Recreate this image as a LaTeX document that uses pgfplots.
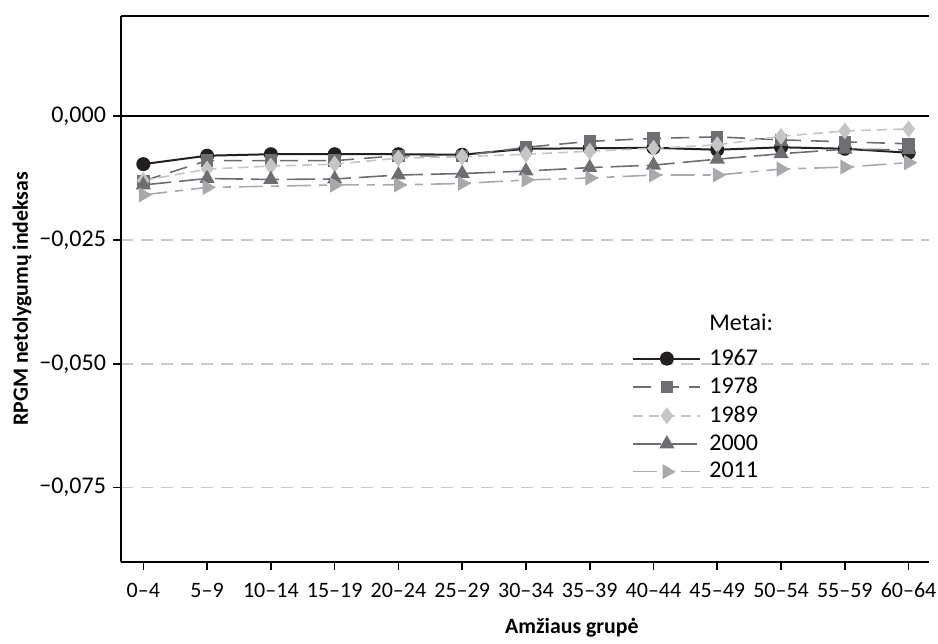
\documentclass[border=0pt]{standalone}
\usepackage{fontspec}
\setmainfont{Carlito}
\usepackage{pgfplots}
\usepackage{pgfplotstable}
\pgfplotsset{compat=1.18}

\definecolor{c67}{HTML}{231F20}
\definecolor{c78}{HTML}{6D6E71}
\definecolor{c89}{HTML}{C4C5C7}
\definecolor{c00}{HTML}{6D6E71}
\definecolor{c11}{HTML}{A7A9AC}
\definecolor{gridc}{HTML}{C8C8C8}

% x = age group index (0 = 0-4, ..., 12 = 60-64)
\pgfplotstableread{
x y
0 -0.0097
1 -0.0080
2 -0.0077
3 -0.0077
4 -0.0077
5 -0.0078
6 -0.0066
7 -0.0065
8 -0.0064
9 -0.0068
10 -0.0063
11 -0.0066
12 -0.0074
}\dA
\pgfplotstableread{
x y
0 -0.0131
1 -0.0090
2 -0.0090
3 -0.0090
4 -0.0080
5 -0.0080
6 -0.0063
7 -0.0051
8 -0.0045
9 -0.0042
10 -0.0048
11 -0.0052
12 -0.0056
}\dB
\pgfplotstableread{
x y
0 -0.0130
1 -0.0107
2 -0.0101
3 -0.0097
4 -0.0085
5 -0.0082
6 -0.0077
7 -0.0071
8 -0.0065
9 -0.0058
10 -0.0041
11 -0.0030
12 -0.0026
}\dC
\pgfplotstableread{
x y
0 -0.0139
1 -0.0126
2 -0.0128
3 -0.0127
4 -0.0119
5 -0.0116
6 -0.0111
7 -0.0104
8 -0.0099
9 -0.0087
10 -0.0076
11 -0.0067
12 -0.0068
}\dD
\pgfplotstableread{
x y
0 -0.0159
1 -0.0144
3 -0.0139
4 -0.0139
5 -0.0136
6 -0.0129
7 -0.0125
8 -0.0119
9 -0.0119
10 -0.0107
11 -0.0103
12 -0.0094
}\dE

\begin{document}
\begin{tikzpicture}
\begin{axis}[
  name=ax,
  scale only axis,
  width=404pt, height=273pt,
  xmin=-0.35, xmax=12.32,
  ymin=-0.09, ymax=0.0202,
  scaled y ticks=false,
  axis x line*=bottom,
  axis y line*=left,
  axis line style={black, line width=0.9pt, -},
  xtick pos=left, ytick pos=left,
  xticklabel pos=left, yticklabel pos=left,
  tick align=outside,
  major tick length=4pt,
  tick style={black, line width=0.8pt},
  xtick={0,...,12},
  xticklabels={0–4,5–9,10–14,15–19,20–24,25–29,30–34,35–39,40–44,45–49,50–54,55–59,60–64},
  ytick={-0.075,-0.05,-0.025,0},
  yticklabels={{−0,075},{−0,050},{−0,025},{0,000}},
  extra y ticks={0},
  extra y tick labels={},
  extra y tick style={
    ymajorgrids=true,
    major grid style={solid, black, line width=0.9pt},
  },
  ymajorgrids=true,
  major grid style={dashed, gridc, line width=0.7pt, dash pattern=on 6pt off 4pt},
  yticklabel style={font=\fontsize{12}{14}\selectfont},
  xticklabel style={font=\fontsize{11}{13}\selectfont, yshift=-3pt},
  xlabel={Amžiaus grupė},
  ylabel={RPGM netolygumų indeksas},
  label style={font=\fontsize{10.9}{13}\selectfont\bfseries},
  xlabel style={at={(axis description cs:0.558,-0.121)}, anchor=center},
  ylabel style={at={(axis description cs:-0.1225,0.482)}, anchor=center},
  legend cell align=left,
  legend style={
    draw=none, fill=none,
    at={(axis description cs:0.625,0.469)}, anchor=north west,
    font=\fontsize{12}{14}\selectfont,
    row sep=0.6pt,
    /tikz/every odd column/.append style={column sep=2pt},
  },
  legend image code/.code={%
    \draw[mark repeat=2,mark phase=2] plot coordinates {(0pt,0pt) (16.75pt,0pt) (33.5pt,0pt)};},
  % top frame line
  after end axis/.code={\draw[black, line width=0.9pt] (rel axis cs:0,1) -- (rel axis cs:1,1);},
]
\addlegendimage{empty legend}
\addlegendentry{\raisebox{3pt}{Metai:}}

\addplot[c67, line width=1pt, solid, mark=*, mark size=3pt, mark options={solid, fill=c67}] table {\dA};
\addlegendentry{1967}
\addplot[c78, line width=0.8pt, dash pattern=on 9pt off 5pt, mark=square*, mark size=2.7pt, mark options={solid, fill=c78}] table {\dB};
\addlegendentry{1978}
\addplot[c89, line width=0.8pt, dash pattern=on 5pt off 3pt, mark=diamond*, mark size=3.6pt, mark options={solid, fill=c89}] table {\dC};
\addlegendentry{1989}
\addplot[c00, line width=0.8pt, dash pattern=on 14pt off 4pt, mark=triangle*, mark size=3.6pt, mark options={solid, fill=c00}] table {\dD};
\addlegendentry{2000}
\addplot[c11, line width=0.8pt, dash pattern=on 12pt off 4pt on 4pt off 4pt, mark=triangle*, mark size=3.6pt, mark options={solid, fill=c11, rotate=-90}] table {\dE};
\addlegendentry{2011}
\end{axis}
\pgfresetboundingbox
\path[use as bounding box] ([shift={(-60.5pt,-41pt)}]ax.south west) rectangle ([shift={(4.5pt,8pt)}]ax.north east);
\end{tikzpicture}
\end{document}
